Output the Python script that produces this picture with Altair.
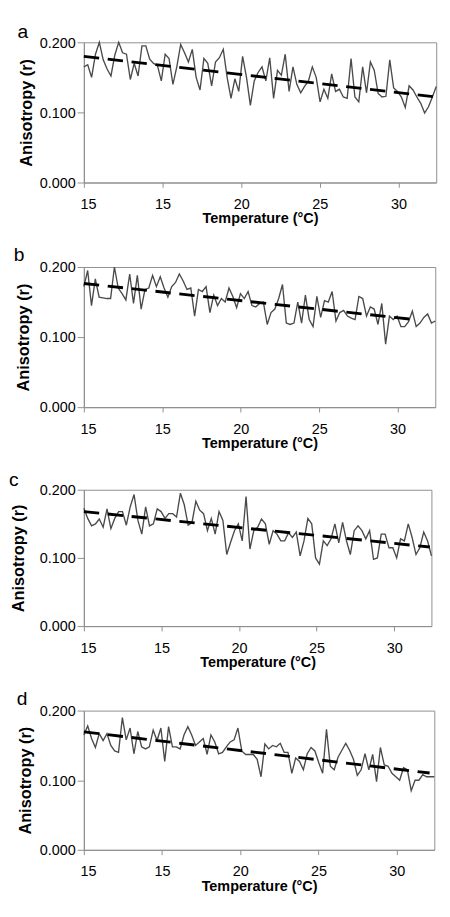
import altair as alt
import pandas as pd

# ---------------- data ----------------
panel_letters = ["a", "b", "c", "d"]
x_tick_values = [10, 15, 20, 25, 30]
x_tick_labels = ["15", "15", "20", "25", "30"]
y_tick_values = [0.0, 0.05, 0.10, 0.15, 0.20]
temp_min = 10.0
temp_max = 32.4

r_a = [0.165, 0.168, 0.150, 0.183, 0.200, 0.175, 0.162, 0.152, 0.182, 0.200,
       0.185, 0.183, 0.147, 0.170, 0.152, 0.195, 0.195, 0.176, 0.170, 0.167,
       0.145, 0.183, 0.177, 0.140, 0.165, 0.197, 0.185, 0.172, 0.190, 0.150,
       0.132, 0.177, 0.170, 0.138, 0.172, 0.178, 0.190, 0.150, 0.120, 0.148,
       0.130, 0.180, 0.150, 0.110, 0.145, 0.157, 0.165, 0.145, 0.178, 0.120,
       0.160, 0.153, 0.183, 0.130, 0.165, 0.140, 0.128, 0.137, 0.145, 0.165,
       0.150, 0.115, 0.133, 0.120, 0.155, 0.130, 0.133, 0.122, 0.120, 0.177,
       0.122, 0.115, 0.165, 0.128, 0.172, 0.160, 0.127, 0.122, 0.123, 0.175,
       0.135, 0.130, 0.122, 0.107, 0.138, 0.132, 0.122, 0.113, 0.099, 0.108,
       0.122, 0.137]

r_b = [0.172, 0.195, 0.145, 0.183, 0.157, 0.156, 0.155, 0.155, 0.200, 0.170,
       0.162, 0.153, 0.190, 0.148, 0.188, 0.140, 0.168, 0.170, 0.188, 0.172,
       0.186, 0.170, 0.157, 0.172, 0.178, 0.190, 0.180, 0.168, 0.170, 0.130,
       0.168, 0.165, 0.172, 0.135, 0.160, 0.145, 0.155, 0.150, 0.170, 0.158,
       0.142, 0.162, 0.155, 0.165, 0.145, 0.143, 0.148, 0.150, 0.118, 0.135,
       0.140, 0.155, 0.175, 0.120, 0.118, 0.120, 0.150, 0.120, 0.160, 0.125,
       0.115, 0.158, 0.128, 0.152, 0.150, 0.165, 0.123, 0.135, 0.138, 0.130,
       0.127, 0.125, 0.158, 0.155, 0.130, 0.143, 0.140, 0.118, 0.148, 0.090,
       0.130, 0.125, 0.130, 0.115, 0.115, 0.122, 0.137, 0.115, 0.120, 0.128,
       0.133, 0.120, 0.123]

r_c = [0.173, 0.158, 0.147, 0.150, 0.157, 0.145, 0.172, 0.143, 0.158, 0.168,
       0.168, 0.148, 0.175, 0.193, 0.155, 0.135, 0.175, 0.147, 0.150, 0.172,
       0.168, 0.158, 0.165, 0.165, 0.160, 0.195, 0.178, 0.148, 0.152, 0.183,
       0.170, 0.165, 0.140, 0.158, 0.135, 0.168, 0.155, 0.105, 0.123, 0.140,
       0.150, 0.125, 0.190, 0.113, 0.140, 0.145, 0.157, 0.150, 0.120, 0.140,
       0.135, 0.125, 0.125, 0.137, 0.130, 0.138, 0.103, 0.125, 0.158, 0.150,
       0.100, 0.091, 0.125, 0.118, 0.128, 0.150, 0.122, 0.152, 0.125, 0.105,
       0.140, 0.147, 0.140, 0.128, 0.140, 0.098, 0.100, 0.135, 0.135, 0.115,
       0.115, 0.100, 0.128, 0.125, 0.150, 0.130, 0.105, 0.115, 0.138, 0.125,
       0.103]

r_d = [0.165, 0.178, 0.160, 0.147, 0.167, 0.157, 0.167, 0.150, 0.142, 0.140,
       0.190, 0.158, 0.175, 0.138, 0.170, 0.148, 0.145, 0.148, 0.172, 0.157,
       0.175, 0.127, 0.177, 0.148, 0.148, 0.145, 0.165, 0.177, 0.165, 0.150,
       0.155, 0.160, 0.137, 0.165, 0.155, 0.138, 0.140, 0.148, 0.155, 0.158,
       0.175, 0.142, 0.137, 0.137, 0.137, 0.130, 0.105, 0.152, 0.145, 0.150,
       0.148, 0.153, 0.140, 0.140, 0.110, 0.132, 0.127, 0.115, 0.138, 0.147,
       0.142, 0.125, 0.110, 0.173, 0.120, 0.115, 0.133, 0.143, 0.153, 0.143,
       0.130, 0.107, 0.115, 0.138, 0.115, 0.137, 0.098, 0.147, 0.122, 0.120,
       0.110, 0.105, 0.100, 0.118, 0.115, 0.085, 0.100, 0.100, 0.108, 0.105,
       0.105, 0.105]

series = [r_a, r_b, r_c, r_d]

# linear trend (dashed): start value at temp_min, end temp, end value
trend_start = [0.180, 0.1765, 0.168, 0.1695]
trend_end_temp = [32.35, 31.3, 32.3, 32.1]
trend_end = [0.1222, 0.1244, 0.1160, 0.1103]

# ---------------- layout (pixels) ----------------
plot_left = [77, 81, 86, 78]
widths = [367, 366, 362, 365]
heights = [146, 146, 142, 145]
letter_dy = [-5, -6, -4, -6]

FONT = "Liberation Sans"
label_expr = " : ".join(
    [f"datum.value == {v} ? '{l}'" for v, l in zip(x_tick_values, x_tick_labels)]
) + " : datum.label"

panels = []
for k in range(4):
    vals = series[k]
    n = len(vals)
    temps = [temp_min + (temp_max - temp_min) * i / (n - 1) for i in range(n)]
    df = pd.DataFrame({"temp": temps, "r": vals})
    tdf = pd.DataFrame({"temp": [temp_min, trend_end_temp[k]],
                        "r": [trend_start[k], trend_end[k]]})
    ldf = pd.DataFrame({"letter": [panel_letters[k]]})

    xs = alt.X("temp:Q",
               scale=alt.Scale(domain=[temp_min, temp_max], nice=False, zero=False),
               axis=alt.Axis(values=x_tick_values, labelExpr=label_expr,
                             title="Temperature (°C)", titleFontSize=15,
                             tickSize=5, labelPadding=10, titlePadding=0,
                             labelFlush=True, labelFlushOffset=4))
    ys = alt.Y("r:Q",
               scale=alt.Scale(domain=[0, 0.2], nice=False),
               axis=alt.Axis(values=y_tick_values, format=".3f",
                             title="Anisotropy (r)", titleFontSize=17,
                             tickSize=7, labelPadding=2,
                             titlePadding=max(0.5, plot_left[k] - 8 - 64.5 - 1)))

    line = alt.Chart(df).mark_line(color="#4a4a4a", strokeWidth=1.4).encode(x=xs, y=ys)
    trend = alt.Chart(tdf).mark_line(color="black", strokeWidth=3,
                                     strokeDash=[16, 9]).encode(x="temp:Q", y="r:Q")
    letter = alt.Chart(ldf).mark_text(align="left", baseline="alphabetic",
                                      fontSize=20, font=FONT, color="black").encode(
        x=alt.value(8 - plot_left[k]), y=alt.value(letter_dy[k]), text="letter:N")

    panels.append(alt.layer(line, trend, letter).properties(
        width=widths[k], height=heights[k]))

chart = alt.vconcat(*panels, spacing=19).properties(
    padding={"left": 0, "top": -5, "right": 0, "bottom": 0}
).configure(font=FONT).configure_axis(
    labelFont=FONT, labelFontSize=15, labelColor="black",
    titleFont=FONT, titleFontWeight="bold", titleColor="black",
    domainColor="#8c8c8c", tickColor="#8c8c8c", grid=False
).configure_view(stroke="#8c8c8c", strokeWidth=1)

chart.save("out.html", embed_options={"renderer": "svg", "actions": False})
